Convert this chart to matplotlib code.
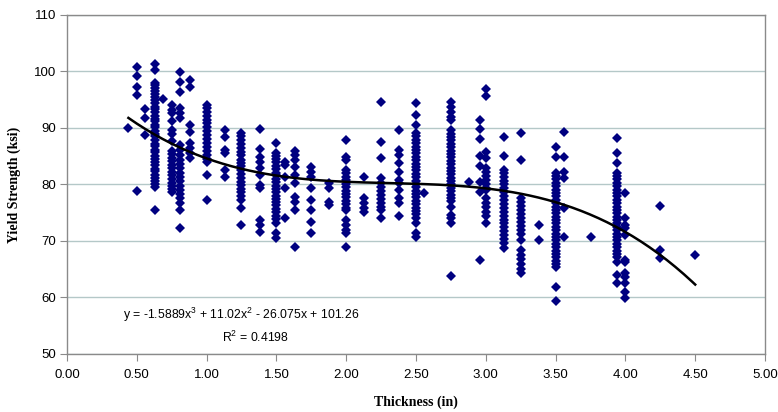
import numpy as np
import matplotlib
matplotlib.use("Agg")
from matplotlib import pyplot as plt

# plate thickness (in) for each group of test results
thickness = [0.44, 0.50, 0.56, 0.63, 0.69, 0.75, 0.81, 0.88, 1.00, 1.13,
             1.25, 1.38, 1.50, 1.56, 1.63, 1.75, 1.88, 2.00, 2.13, 2.25,
             2.38, 2.50, 2.56, 2.75, 2.88, 2.96, 3.00, 3.13, 3.25, 3.38,
             3.50, 3.56, 3.75, 3.94, 4.00, 4.25, 4.50]

# yield strength (ksi) measured at each thickness
strength = [
    [90.0],
    [100.8, 99.2, 97.3, 95.8, 78.8],
    [93.4, 91.8, 88.8],
    [101.3, 100.3, 98.0, 97.6, 97.1, 96.5, 96.1, 95.4, 95.0, 94.5, 93.8, 93.3,
     92.9, 92.2, 91.6, 91.2, 90.5, 90.1, 89.4, 88.9, 88.5, 87.8, 87.2, 86.8,
     86.1, 85.7, 85.0, 84.6, 83.9, 83.4, 82.8, 82.4, 81.7, 81.2, 80.6, 80.1,
     79.6, 75.5],
    [95.1],
    [94.1, 93.2, 92.6, 91.2, 89.7, 88.9, 87.7, 86.0, 85.4, 84.7, 84.1, 83.4,
     82.9, 82.2, 81.6, 81.0, 80.3, 79.7, 79.2, 78.7],
    [99.9, 98.1, 96.4, 93.5, 92.6, 91.8, 87.0, 86.1, 85.2, 84.4, 83.6, 82.9,
     82.1, 81.3, 80.6, 79.8, 79.1, 78.3, 77.6, 76.8, 75.5, 72.3],
    [98.5, 97.3, 90.5, 89.3, 87.3, 86.4, 85.5, 84.7],
    [94.1, 93.5, 92.8, 92.1, 91.5, 90.8, 90.1, 89.4, 88.8, 88.0, 87.4, 86.7,
     86.0, 85.2, 84.5, 84.0, 81.7, 77.3],
    [89.6, 88.4, 86.1, 85.6, 82.6, 81.3],
    [89.1, 88.5, 87.8, 87.1, 86.5, 85.8, 85.2, 84.4, 83.8, 83.2, 82.5, 81.8,
     81.2, 80.5, 79.9, 79.2, 78.6, 77.9, 77.3, 75.8, 72.8],
    [89.8, 86.3, 84.9, 84.0, 82.9, 81.7, 79.9, 79.4, 73.8, 72.8, 71.6],
    [87.3, 85.6, 85.0, 84.5, 83.9, 83.3, 82.7, 82.1, 81.6, 81.0, 80.4, 79.8,
     79.2, 78.6, 78.0, 77.4, 76.9, 76.3, 75.7, 75.1, 74.5, 73.9, 73.2, 71.4,
     70.5],
    [84.0, 83.5, 81.3, 79.4, 74.1],
    [85.9, 85.2, 84.3, 83.1, 81.7, 80.3, 77.8, 76.9, 75.5, 68.9],
    [83.1, 82.2, 81.3, 79.4, 77.3, 75.5, 73.4, 71.4],
    [80.3, 79.4, 76.9, 76.4],
    [87.9, 84.9, 84.3, 82.6, 82.0, 81.4, 80.8, 80.1, 79.6, 78.9, 78.3, 77.7,
     77.1, 76.5, 75.9, 75.5, 73.8, 72.8, 71.9, 71.4, 68.9],
    [81.3, 77.6, 76.7, 75.8, 75.1],
    [94.6, 87.5, 84.7, 81.2, 80.3, 79.6, 78.9, 78.2, 77.5, 76.8, 76.1, 75.5,
     74.1],
    [89.6, 86.1, 85.2, 83.8, 82.2, 80.8, 80.3, 79.0, 77.6, 76.7, 74.4],
    [94.4, 92.3, 90.5, 89.1, 88.5, 87.9, 87.3, 86.7, 86.1, 85.5, 84.9, 84.3,
     83.7, 83.1, 82.5, 81.9, 81.3, 80.7, 80.1, 79.5, 78.9, 78.3, 77.7, 77.1,
     76.5, 75.9, 75.3, 74.7, 74.0, 73.2, 71.4, 70.7],
    [78.5],
    [94.6, 93.7, 92.8, 91.9, 91.4, 89.6, 89.0, 88.4, 87.8, 87.2, 86.6, 86.0,
     85.4, 84.8, 84.2, 83.6, 83.0, 82.4, 81.8, 81.2, 80.6, 80.0, 79.4, 78.8,
     78.2, 77.6, 77.0, 76.0, 74.6, 74.1, 73.2, 63.8],
    [80.4],
    [91.4, 89.8, 88.0, 85.0, 83.3, 80.4, 78.7, 66.6],
    [96.9, 95.7, 85.8, 84.7, 82.9, 82.2, 81.5, 80.8, 80.1, 79.4, 79.0, 77.6,
     76.8, 76.0, 75.2, 74.4, 73.2],
    [88.4, 85.0, 82.6, 82.0, 81.3, 80.6, 80.0, 79.3, 78.6, 77.9, 77.2, 76.6,
     75.9, 75.2, 74.5, 73.8, 73.1, 72.4, 71.7, 71.0, 70.3, 69.6, 68.8],
    [89.1, 84.3, 77.6, 76.9, 76.2, 75.5, 74.8, 74.1, 73.4, 72.6, 71.9, 71.2,
     70.2, 68.4, 67.6, 66.8, 66.0, 65.1, 64.3],
    [72.8, 70.2],
    [86.6, 84.9, 82.1, 81.5, 80.9, 80.3, 79.7, 79.1, 78.5, 77.9, 77.3, 76.7,
     76.1, 75.5, 74.9, 74.3, 73.7, 73.1, 72.5, 71.9, 71.3, 70.7, 70.1, 69.5,
     68.9, 68.3, 67.7, 67.1, 66.5, 65.9, 65.4, 61.9, 59.4],
    [89.3, 84.9, 82.2, 81.2, 75.8, 70.7],
    [70.7],
    [88.2, 85.6, 83.8, 82.1, 81.5, 80.9, 80.3, 79.7, 79.1, 78.5, 77.9, 77.3,
     76.7, 76.1, 75.5, 74.9, 74.3, 73.7, 73.1, 72.5, 71.9, 71.3, 70.7, 70.1,
     69.5, 68.9, 68.3, 67.7, 67.1, 66.3, 64.0, 62.6],
    [78.5, 74.1, 72.8, 72.3, 71.1, 66.6, 66.3, 64.3, 63.6, 62.6, 61.0, 59.9],
    [76.2, 68.4, 67.0],
    [67.5],
]

# third-order polynomial trendline (Excel fit)
coef = [-1.5889, 11.02, -26.075, 101.26]
eq_text = "y = -1.5889x$^{3}$ + 11.02x$^{2}$ - 26.075x + 101.26"
r2_text = "R$^{2}$ = 0.4198"

xs = np.concatenate([[t] * len(v) for t, v in zip(thickness, strength)])
ys = np.concatenate(strength)

plt.rcParams['font.family'] = ['Liberation Sans', 'DejaVu Sans']
plt.rcParams['mathtext.fontset'] = 'custom'
plt.rcParams['mathtext.rm'] = 'Liberation Sans'

fig = plt.figure(figsize=(7.78, 4.12), dpi=100)
ax = fig.add_axes([0.0861, 0.1408, 0.8972, 0.8228])

ax.plot(xs, ys, linestyle='none', marker='D', ms=5.2, color='#000080',
        markeredgewidth=0, zorder=3)

fx = np.linspace(min(thickness), max(thickness), 200)
ax.plot(fx, np.polyval(coef, fx), color='black', lw=1.8, zorder=4)

ax.set_xlim(0, 5)
ax.set_ylim(50, 110)
ax.set_xticks(np.arange(0, 5.01, 0.5))
ax.set_xticklabels(["%.2f" % v for v in np.arange(0, 5.01, 0.5)])
ax.set_yticks(np.arange(50, 111, 10))
ax.yaxis.grid(True, color='#b4c8c8', lw=1.0)
ax.set_axisbelow(True)

for s in ax.spines.values():
    s.set_color('#8a8a8a')
    s.set_linewidth(1.0)
ax.tick_params(axis='both', direction='out', length=5, color='#8a8a8a',
               labelsize=9.5, pad=3)
ax.tick_params(axis='x', pad=6)

ax.set_xlabel("Thickness (in)", family=['Liberation Serif'], weight='bold',
              fontsize=10, labelpad=10)
ax.set_ylabel("Yield Strength (ksi)", family=['Liberation Serif'],
              weight='bold', fontsize=10, labelpad=9)

ax.text(0.40, 56.9, eq_text, fontsize=8.8, ha='left', va='center')
ax.text(1.11, 53.0, r2_text, fontsize=8.8, ha='left', va='center')

fig.savefig("out.png", dpi=100)
